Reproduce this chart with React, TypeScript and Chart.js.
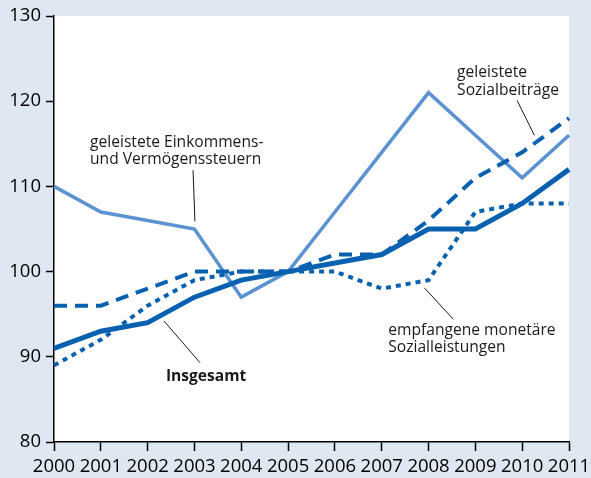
import React, { useEffect, useRef } from "react";
import { Chart, registerables } from "chart.js";

Chart.register(...registerables);

const years = ["2000","2001","2002","2003","2004","2005","2006","2007","2008","2009","2010","2011"];
const insgesamt = [91, 93, 94, 97, 99, 100, 101, 102, 105, 105, 108, 112];
const sozialbeitraege = [96, 96, 98, 100, 100, 100, 102, 102, 106, 111, 114, 118];
const sozialleistungen = [89, 92, 96, 99, 100, 100, 100, 98, 99, 107, 108, 108];
const steuern = [110, 107, 106, 105, 97, 100, 107, 114, 121, 116, 111, 116];

// annotation texts anchored in data units (x = category index, y = value)
const notes = [
  { lines: ["geleistete Einkommens-", "und Vermögenssteuern"], x: 0.77, y: [115.1, 113.1], bold: false, lead: [2.97, 111.9, 3.01, 105.9] },
  { lines: ["geleistete", "Sozialbeiträge"], x: 8.61, y: [123.4, 121.3], bold: false, lead: [9.89, 120.1, 10.26, 116.0] },
  { lines: ["empfangene monetäre", "Sozialleistungen"], x: 7.14, y: [93.1, 91.1], bold: false, lead: [7.91, 98.1, 8.53, 94.4] },
  { lines: ["Insgesamt"], x: 2.39, y: [87.7], bold: true, lead: [2.35, 94.2, 3.12, 89.3] },
];

const BG = "#dfe7f2";
const DARK = "#0861b0";
const LIGHT = "#5b93d2";
const FONT = "'Open Sans', 'Noto Sans', sans-serif";

const areaPlugin = {
  id: "areaBg",
  beforeDraw(chart: any) {
    const { ctx, chartArea } = chart;
    ctx.save();
    ctx.fillStyle = "#ffffff";
    ctx.fillRect(chartArea.left, chartArea.top, chartArea.right - chartArea.left, chartArea.bottom - chartArea.top);
    ctx.restore();
  },
};

const notesPlugin = {
  id: "notes",
  afterDatasetsDraw(chart: any) {
    const { ctx, scales } = chart;
    const xs = scales.x, ys = scales.y;
    ctx.save();
    for (const n of notes) {
      ctx.font = `${n.bold ? "bold " : ""}15.6px ${FONT}`;
      ctx.fillStyle = "#1a1a1a";
      ctx.textAlign = "left";
      ctx.textBaseline = "middle";
      n.lines.forEach((t, i) => {
        ctx.fillText(t, xs.getPixelForValue(n.x), ys.getPixelForValue(n.y[i]));
      });
      ctx.strokeStyle = "#1a1a1a";
      ctx.lineWidth = 1;
      ctx.beginPath();
      ctx.moveTo(xs.getPixelForValue(n.lead[0]), ys.getPixelForValue(n.lead[1]));
      ctx.lineTo(xs.getPixelForValue(n.lead[2]), ys.getPixelForValue(n.lead[3]));
      ctx.stroke();
    }
    ctx.restore();
  },
};

export default function App() {
  const ref = useRef<HTMLCanvasElement>(null);
  useEffect(() => {
    document.body.style.margin = "0";
    const chart = new Chart(ref.current!, {
      type: "line",
      data: {
        labels: years,
        datasets: [
          { label: "Insgesamt", data: insgesamt, borderColor: DARK, borderWidth: 5, pointRadius: 0, borderJoinStyle: "miter" as any },
          { label: "geleistete Sozialbeiträge", data: sozialbeitraege, borderColor: DARK, borderWidth: 4, borderDash: [13, 8], pointRadius: 0 },
          { label: "empfangene monetäre Sozialleistungen", data: sozialleistungen, borderColor: DARK, borderWidth: 4, borderDash: [5, 5], pointRadius: 0 },
          { label: "geleistete Einkommens- und Vermögenssteuern", data: steuern, borderColor: LIGHT, borderWidth: 3.5, pointRadius: 0, borderJoinStyle: "miter" as any },
        ],
      },
      options: {
        animation: false,
        responsive: false,
        layout: { padding: { top: 16, right: 22, left: 0, bottom: 0 } },
        plugins: { legend: { display: false }, tooltip: { enabled: false } },
        scales: {
          x: {
            type: "category",
            offset: false,
            grid: { display: true, drawOnChartArea: false, drawTicks: true, tickLength: 9, color: "#000", tickWidth: 1.5 },
            border: { display: true, color: "#000", width: 1.5 },
            ticks: { color: "#000", font: { family: FONT, size: 18.5 }, padding: 5, maxRotation: 0, autoSkip: false },
            afterFit: (s: any) => { s.height = 36; s.paddingRight = 0; s.paddingLeft = 0; },
          },
          y: {
            min: 80,
            max: 130,
            grid: { display: true, drawOnChartArea: false, drawTicks: true, tickLength: 8, color: "#000", tickWidth: 1.5 },
            border: { display: true, color: "#000", width: 1.5 },
            ticks: { stepSize: 10, color: "#000", font: { family: FONT, size: 18.5 }, padding: 5 },
            afterFit: (s: any) => { s.width = 54; s.paddingTop = 0; s.paddingBottom = 0; },
          },
        },
      },
      plugins: [areaPlugin, notesPlugin],
    });
    return () => chart.destroy();
  }, []);
  return (
    <div style={{ position: "fixed", left: 0, top: 0, width: 591, height: 478, background: BG }}>
      <canvas ref={ref} width={591} height={478} style={{ width: 591, height: 478, display: "block" }} />
    </div>
  );
}
